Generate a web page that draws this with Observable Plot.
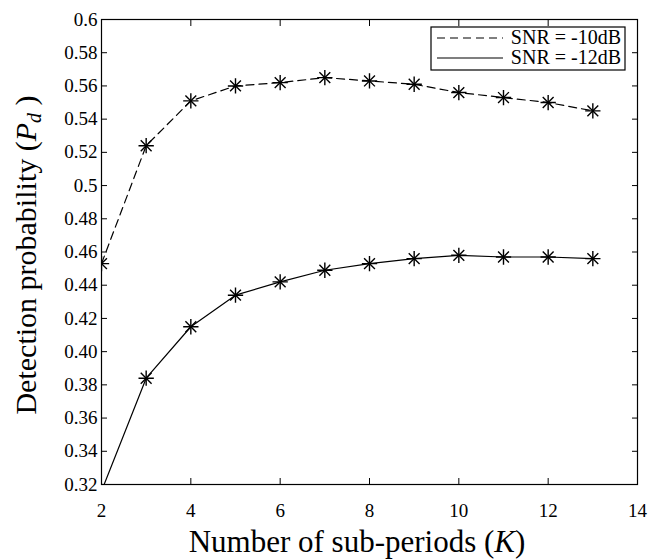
<!DOCTYPE html>
<html>
<head>
<meta charset="utf-8">
<script src="https://cdn.jsdelivr.net/npm/d3@7"></script>
<script src="https://cdn.jsdelivr.net/npm/@observablehq/plot@0.6"></script>
<style>
  html, body { margin: 0; padding: 0; background: #fff; }
  #wrap { position: relative; width: 660px; height: 560px; font-family: "Liberation Serif", "Times New Roman", serif; }
  #wrap svg, #wrap svg text { font-family: "Liberation Serif", "Times New Roman", serif !important; }
  #overlay { position: absolute; left: 0; top: 0; pointer-events: none; }
</style>
</head>
<body>
<div id="wrap"></div>
<script>
// ---- data ----
const K = [2, 3, 4, 5, 6, 7, 8, 9, 10, 11, 12, 13];
const pdSnr10 = [0.453, 0.524, 0.551, 0.560, 0.562, 0.565, 0.563, 0.561, 0.556, 0.553, 0.550, 0.545];
const pdSnr12 = [0.316, 0.384, 0.415, 0.434, 0.442, 0.449, 0.453, 0.456, 0.458, 0.457, 0.457, 0.456];
const seriesNames = ["SNR = -10dB", "SNR = -12dB"];
const xTicks = [2, 4, 6, 8, 10, 12, 14];
const yTicks = [0.32, 0.34, 0.36, 0.38, 0.40, 0.42, 0.44, 0.46, 0.48, 0.50, 0.52, 0.54, 0.56, 0.58, 0.60];
const yTickLabels = ["0.32", "0.34", "0.36", "0.38", "0.40", "0.42", "0.44", "0.46", "0.48", "0.5", "0.52", "0.54", "0.56", "0.58", "0.6"];

const rows10 = K.map((k, i) => ({k, pd: pdSnr10[i], s: seriesNames[0]}));
const rows12 = K.map((k, i) => ({k, pd: pdSnr12[i], s: seriesNames[1]}));
const yLabel = new Map(yTicks.map((t, i) => [t.toFixed(2), yTickLabels[i]]));

const W = 660, H = 560;
const mL = 101, mR = 23, mT = 19, mB = 76;
const font = "Liberation Serif, Times New Roman, serif";

const chart = Plot.plot({
  width: W, height: H,
  marginLeft: mL, marginRight: mR, marginTop: mT, marginBottom: mB,
  style: {fontFamily: font, background: "#fff", color: "#000"},
  x: {domain: [2, 14]},
  y: {domain: [0.32, 0.6]},
  marks: [
    Plot.frame({stroke: "#000", strokeWidth: 1.2}),
    Plot.axisX({ticks: xTicks, tickSize: -6, tickPadding: 25, fontSize: 19, label: null, tickFormat: d => String(d)}),
    Plot.axisX({anchor: "top", ticks: xTicks, tickSize: -6, label: null, tickFormat: () => ""}),
    Plot.axisY({ticks: yTicks, tickSize: -6, tickPadding: 10, fontSize: 19, label: null, tickFormat: d => yLabel.get(d.toFixed(2))}),
    Plot.axisY({anchor: "right", ticks: yTicks, tickSize: -6, label: null, tickFormat: () => ""}),
    Plot.line(rows10, {x: "k", y: "pd", stroke: "#000", strokeWidth: 1.2, strokeDasharray: "8,5", clip: true}),
    Plot.line(rows12, {x: "k", y: "pd", stroke: "#000", strokeWidth: 1.2, clip: true}),
    Plot.dot(rows10.concat(rows12), {x: "k", y: "pd", symbol: "plus", r: 5, stroke: "#000", strokeWidth: 1.4, clip: true}),
    Plot.dot(rows10.concat(rows12), {x: "k", y: "pd", symbol: "times", r: 5, stroke: "#000", strokeWidth: 1.4, clip: true})
  ]
});

const wrap = document.getElementById("wrap");
wrap.appendChild(chart);
d3.select(chart).selectAll("text").attr("font-family", font).style("font-family", font);

// overlay: axis titles (with italics/subscript) and legend
const ov = d3.select(wrap).append("svg").attr("id", "overlay").attr("width", W).attr("height", H)
  .attr("font-family", font).attr("fill", "#000");

// x label
const xl = ov.append("text").attr("x", 357).attr("y", 552).attr("text-anchor", "middle").attr("font-size", 31);
xl.append("tspan").text("Number of sub-periods (");
xl.append("tspan").attr("font-style", "italic").text("K");
xl.append("tspan").text(")");

// y label
const yl = ov.append("text").attr("transform", "translate(36,255) rotate(-90)").attr("text-anchor", "middle").attr("font-size", 30);
yl.append("tspan").text("Detection probability (");
yl.append("tspan").attr("font-style", "italic").text("P");
yl.append("tspan").attr("font-style", "italic").attr("font-size", 20).attr("dy", 5).text("d");
yl.append("tspan").attr("dy", -5).text(" )");

// legend
const lg = ov.append("g");
lg.append("rect").attr("x", 431).attr("y", 27).attr("width", 194).attr("height", 43)
  .attr("fill", "#fff").attr("stroke", "#000").attr("stroke-width", 1.2);
const dashes = ["8,5", null];
seriesNames.forEach((name, i) => {
  const y = 38 + i * 20;
  const ln = lg.append("line").attr("x1", 437).attr("x2", 503).attr("y1", y).attr("y2", y)
    .attr("stroke", "#000").attr("stroke-width", 1.2);
  if (dashes[i]) ln.attr("stroke-dasharray", dashes[i]);
  lg.append("text").attr("x", 621).attr("y", y + 6).attr("text-anchor", "end").attr("font-size", 20).text(name);
});
</script>
</body>
</html>
